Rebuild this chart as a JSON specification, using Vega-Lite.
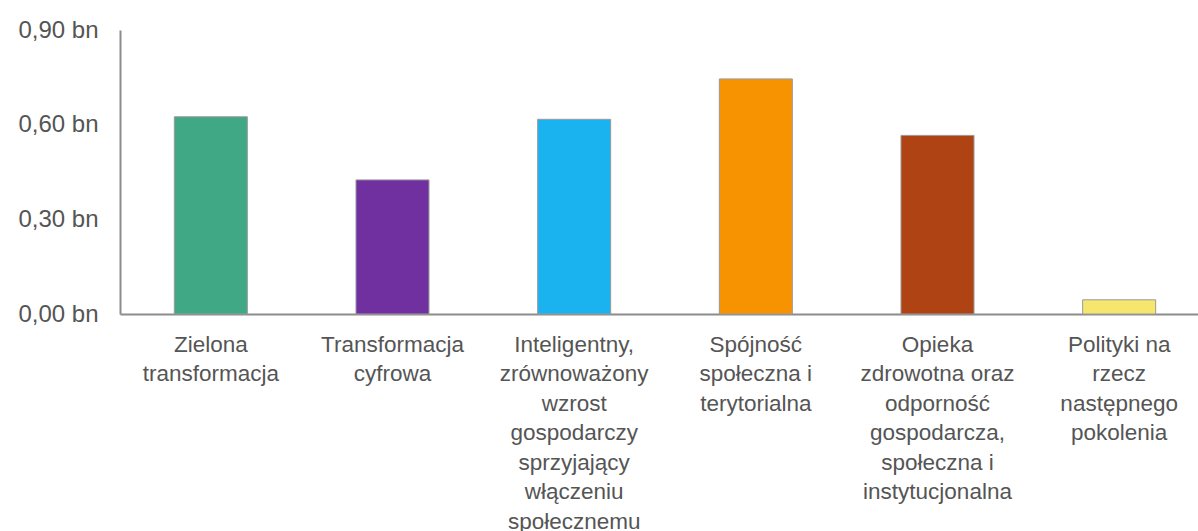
{
  "$schema": "https://vega.github.io/schema/vega-lite/v6.json",
  "autosize": "none",
  "width": 1078,
  "height": 284,
  "padding": {"left": 120, "top": 30, "right": 0, "bottom": 217},
  "background": "white",
  "data": {
    "values": [
      {"cat": "Zielona|transformacja", "value": 0.625, "color": "#41a886"},
      {"cat": "Transformacja|cyfrowa", "value": 0.425, "color": "#7030a0"},
      {"cat": "Inteligentny,|zrównoważony|wzrost|gospodarczy|sprzyjający|włączeniu|społecznemu", "value": 0.617, "color": "#1bb3ef"},
      {"cat": "Spójność|społeczna i|terytorialna", "value": 0.745, "color": "#f79300"},
      {"cat": "Opieka|zdrowotna oraz|odporność|gospodarcza,|społeczna i|instytucjonalna", "value": 0.566, "color": "#b04314"},
      {"cat": "Polityki na|rzecz|następnego|pokolenia", "value": 0.045, "color": "#f7e66e"}
    ]
  },
  "mark": {"type": "bar", "stroke": "#9a9a9a", "strokeWidth": 1},
  "encoding": {
    "x": {
      "field": "cat",
      "type": "nominal",
      "sort": null,
      "scale": {"range": [0, 1090], "paddingInner": 0.598, "paddingOuter": 0.299},
      "axis": {
        "title": null,
        "labelAngle": 0,
        "labelExpr": "split(datum.label, '|')",
        "labelFont": "Liberation Sans",
        "labelFontSize": 22.5,
        "labelColor": "#555555",
        "labelLineHeight": 29.5,
        "labelPadding": 19,
        "labelLimit": 0,
        "ticks": false,
        "domainColor": "#8c8c8c",
        "domainWidth": 2,
        "labelBaseline": "top"
      }
    },
    "y": {
      "field": "value",
      "type": "quantitative",
      "scale": {"domain": [0, 0.9], "nice": false},
      "axis": {
        "title": null,
        "values": [0, 0.3, 0.6, 0.9],
        "labelExpr": "replace(format(datum.value, '.2f'), '.', ',') + ' bn'",
        "labelFont": "Liberation Sans",
        "labelFontSize": 24,
        "labelColor": "#555555",
        "labelPadding": 22,
        "ticks": false,
        "grid": false,
        "domainColor": "#8c8c8c",
        "domainWidth": 2
      }
    },
    "color": {"field": "color", "type": "nominal", "scale": null, "legend": null}
  },
  "config": {"view": {"stroke": null}}
}
